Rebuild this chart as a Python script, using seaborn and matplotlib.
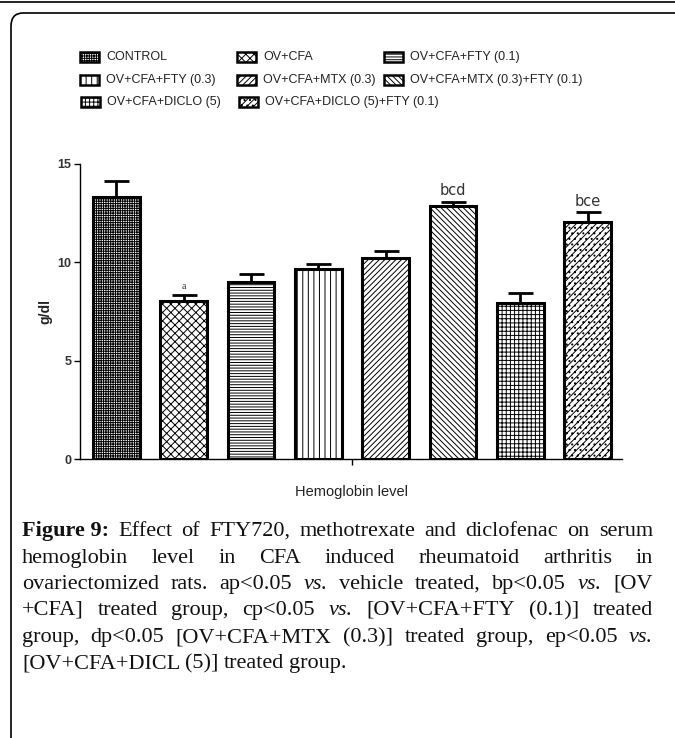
import matplotlib
matplotlib.use("Agg")
import matplotlib.pyplot as plt
from matplotlib.patches import Rectangle, FancyBboxPatch
import seaborn as sns
import pandas as pd
import numpy as np

groups = ["CONTROL", "OV+CFA", "OV+CFA+FTY (0.1)", "OV+CFA+FTY (0.3)",
          "OV+CFA+MTX (0.3)", "OV+CFA+MTX (0.3)+FTY (0.1)",
          "OV+CFA+DICLO (5)", "OV+CFA+DICLO (5)+FTY (0.1)"]
values = [13.32, 8.02, 8.98, 9.68, 10.2, 12.86, 7.93, 12.05]
errors = [0.80, 0.30, 0.45, 0.25, 0.40, 0.22, 0.50, 0.50]
sig_labels = ["", "a", "", "", "", "bcd", "", "bce"]
hatches = ["+++++++", "xxxx", "------", "|||", "//////", "\\\\\\\\\\\\", "++++", "/////..."]
yticks = [0, 5, 10, 15]

caption_lines = [
    [("Figure 9:", "bold"), ("Effect", ""), ("of", ""), ("FTY720,", ""), ("methotrexate", ""),
     ("and", ""), ("diclofenac", ""), ("on", ""), ("serum", "")],
    [("hemoglobin", ""), ("level", ""), ("in", ""), ("CFA", ""), ("induced", ""),
     ("rheumatoid", ""), ("arthritis", ""), ("in", "")],
    [("ovariectomized", ""), ("rats.", ""), ("ap<0.05", ""), ("vs.", "italic"), ("vehicle", ""),
     ("treated,", ""), ("bp<0.05", ""), ("vs.", "italic"), ("[OV", "")],
    [("+CFA]", ""), ("treated", ""), ("group,", ""), ("cp<0.05", ""), ("vs.", "italic"),
     ("[OV+CFA+FTY", ""), ("(0.1)]", ""), ("treated", "")],
    [("group,", ""), ("dp<0.05", ""), ("[OV+CFA+MTX", ""), ("(0.3)]", ""), ("treated", ""),
     ("group,", ""), ("ep<0.05", ""), ("vs.", "italic")],
    [("[OV+CFA+DICL", ""), ("(5)]", ""), ("treated", ""), ("group.", "")],
]

sns.set_theme(style="white")
plt.rcParams["font.family"] = ["Liberation Sans", "DejaVu Sans"]
plt.rcParams["hatch.linewidth"] = 0.7

W, H = 675, 738
fig = plt.figure(figsize=(W / 100, H / 100), dpi=100)
fig.patch.set_facecolor("white")

def fx(px):
    return px / W

def fy(py):
    return 1 - py / H

# frame
fig.add_artist(plt.Line2D([0, 1], [fy(1.5), fy(1.5)], color="black", lw=1.2,
                          transform=fig.transFigure))
frame = FancyBboxPatch((fx(11), fy(760)), fx(700), fy(13) - fy(760),
                       boxstyle="round,pad=0,rounding_size=0.018",
                       transform=fig.transFigure, fill=False, edgecolor="black", lw=1.2)
fig.add_artist(frame)

ax = fig.add_axes([fx(80), fy(459), fx(622) - fx(80), fy(164) - fy(459)])
df = pd.DataFrame({"group": groups, "value": values})
sns.barplot(data=df, x="group", y="value", order=groups, color="white",
            edgecolor="black", linewidth=2.2, width=0.69, errorbar=None,
            saturation=1, ax=ax)
for p, h in zip(ax.patches, hatches):
    p.set_hatch(h)
    p.set_facecolor("white")
    p.set_edgecolor("black")

ax.errorbar(np.arange(len(values)), values,
            yerr=[np.zeros(len(errors)), errors], fmt="none",
            ecolor="black", elinewidth=2.0, capsize=9, capthick=2.0, zorder=1)

for i, (v, e, s) in enumerate(zip(values, errors, sig_labels)):
    if s:
        fs = 7 if len(s) == 1 else 10.5
        off = 0.45 if len(s) == 1 else 0.55
        ax.text(i, v + e + off, s, ha="center", va="center", fontsize=fs,
                color="#333333", family=["DejaVu Sans"] if len(s) > 1 else ["Liberation Serif"])

ax.set_ylim(0, 15)
ax.set_xlim(-0.54, 7.51)
ax.set_yticks(yticks)
ax.set_yticklabels([str(t) for t in yticks], fontweight="bold", fontsize=9, color="#333333")
ax.set_xticks([3.5])
ax.set_xticklabels([""])
ax.tick_params(axis="both", which="both", direction="out", length=4, width=1.0,
               color="black", left=True, bottom=True, pad=2)
ax.set_xlabel("")
ax.set_ylabel("g/dl", fontweight="bold", fontsize=10, color="#222222", labelpad=4)
for side in ["top", "right"]:
    ax.spines[side].set_visible(False)
for side in ["left", "bottom"]:
    ax.spines[side].set_color("black")
    ax.spines[side].set_linewidth(1.0)

fig.text(fx(352), fy(492), "Hemoglobin level", ha="center", va="center",
         fontsize=10.5, color="#222222")

# legend (manual)
leg_pos = [(80, 57), (237, 57), (384, 57),
           (80, 80), (237, 80), (384, 80),
           (81, 102), (239, 102)]
for (px, py), g, h in zip(leg_pos, groups, hatches):
    r = Rectangle((fx(px), fy(py + 5)), fx(19), fy(py - 5) - fy(py + 5),
                  transform=fig.transFigure, facecolor="white", edgecolor="black",
                  lw=1.8, hatch=h)
    fig.add_artist(r)
    fig.text(fx(px + 26), fy(py), g, ha="left", va="center", fontsize=9,
             color="#222222")

# caption (justified)
fig.canvas.draw()
renderer = fig.canvas.get_renderer()
left, right = 22, 653
line_y = [530, 557, 583, 609, 636, 662]
cap_fs = 16
serif = ["Liberation Serif", "DejaVu Serif"]
for li, (words, ypx) in enumerate(zip(caption_lines, line_y)):
    texts = []
    for w, st in words:
        t = fig.text(0, fy(ypx + 6), w, ha="left", va="baseline", fontsize=cap_fs,
                     family=serif, color="#111111",
                     fontweight="bold" if st == "bold" else "normal",
                     fontstyle="italic" if st == "italic" else "normal")
        texts.append(t)
    widths = [t.get_window_extent(renderer).width for t in texts]
    total = sum(widths)
    if li < len(caption_lines) - 1 and len(words) > 1:
        gap = (right - left - total) / (len(words) - 1)
    else:
        gap = 5
    x = left
    for t, wdt in zip(texts, widths):
        t.set_x(fx(x))
        x += wdt + gap

fig.savefig("out.png", dpi=100)
